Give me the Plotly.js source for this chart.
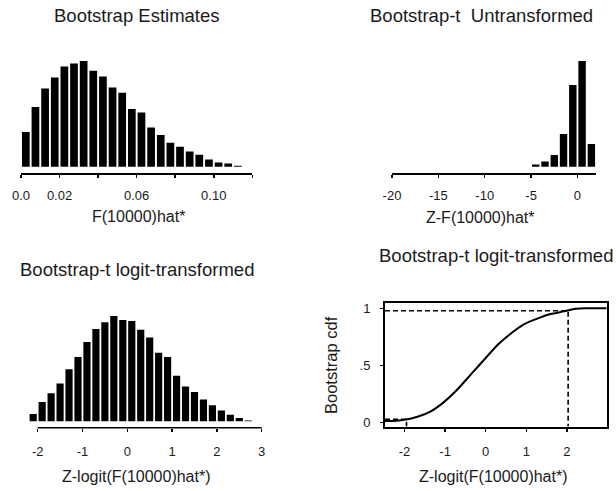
<!DOCTYPE html>
<html><head><meta charset="utf-8">
<script src="https://cdn.plot.ly/plotly-3.0.1.min.js"></script>
<style>html,body{margin:0;padding:0;background:#fff}#chart{width:616px;height:491px}</style>
</head><body><div id="chart"></div>
<script>
// ---- Panel 1: Bootstrap estimates of F(10000) ----
const estBins = [0.0025,0.0075,0.0125,0.0175,0.0225,0.0275,0.0325,0.0375,0.0425,0.0475,0.0525,0.0575,0.0625,0.0675,0.0725,0.0775,0.0825,0.0875,0.0925,0.0975,0.1025,0.1075,0.1125];
const estFreq = [34.7,59.7,78.3,89.3,100.3,103.3,105.7,96,90.3,79.3,74,57.7,54.3,39.3,31.7,24,20,15.3,12,7.3,4.3,3.3,1];
const estTicks = [0,0.02,0.04,0.06,0.08,0.10,0.12];
const estTickText = ['0.0','0.02','','0.06','','0.10',''];

// ---- Panel 2: Bootstrap-t, untransformed ----
const untBins = [-4.5,-3.5,-2.5,-1.5,-0.5,0.5,1.5];
const untFreq = [2.3,5.3,11.7,32.7,81.7,105.7,22.7];
const untTicks = [-20,-15,-10,-5,0];
const untTickText = ['-20','-15','-10','-5','0'];

// ---- Panel 3: Bootstrap-t, logit-transformed ----
const logitBins = [-2.1,-1.9,-1.7,-1.5,-1.3,-1.1,-0.9,-0.7,-0.5,-0.3,-0.1,0.1,0.3,0.5,0.7,0.9,1.1,1.3,1.5,1.7,1.9,2.1,2.3,2.5,2.7];
const logitFreq = [7.3,19.2,28,37.8,52,64.2,79.2,92.2,99,105.3,101.3,100.2,91.5,83.8,68.5,64.2,45.5,34.8,29.2,21.7,16,10.7,6.5,3.3,0.8];
const logitTicks = [-2,-1,0,1,2,3];
const logitTickText = ['-2','-1','0','1','2','3'];

// ---- Panel 4: bootstrap cdf of Z-logit ----
const cdfX = [-2.48,-2.2,-2.0,-1.68,-1.35,-1.03,-0.70,-0.37,-0.04,0.29,0.62,0.94,1.27,1.60,1.93,2.17,2.42,2.98];
const cdfY = [0.015,0.018,0.025,0.052,0.10,0.18,0.29,0.42,0.55,0.68,0.78,0.86,0.91,0.95,0.974,0.994,1.0,1.0];
const cdfXTicks = [-2,-1,0,1,2];
const cdfXText = ['-2','-1','0','1','2'];
const cdfYTicks = [0,0.5,1];
const cdfYText = ['0','.5','1'];
const ciLow = -1.95, ciHigh = 2.03;
const pLow = 0.03, pHigh = 0.978;

// ---- helpers: pixel -> paper fraction ----
const W = 616, H = 491;
const fx = p => p / W;
const fy = p => 1 - p / H;

const FONT = 'Liberation Sans, Arial, Helvetica, sans-serif';
const TXT = '#1a1a1a';

const x4Range = [-2.48, 2.98];
const y4Range = [-0.033, 1.049];

const barBase = {type:'bar', marker:{color:'#000', line:{width:0}}, hoverinfo:'skip'};

const data = [
  Object.assign({}, barBase, {x: estBins, y: estFreq, xaxis:'x', yaxis:'y'}),
  Object.assign({}, barBase, {x: untBins, y: untFreq, xaxis:'x2', yaxis:'y2'}),
  Object.assign({}, barBase, {x: logitBins, y: logitFreq, xaxis:'x3', yaxis:'y3'}),
  {type:'scatter', mode:'lines', x: cdfX, y: cdfY, xaxis:'x4', yaxis:'y4',
   line:{color:'#000', width:2, shape:'spline', smoothing:0.6}},
  {type:'scatter', mode:'lines', x:[x4Range[0], ciHigh, ciHigh], y:[pHigh, pHigh, y4Range[0]],
   xaxis:'x4', yaxis:'y4', line:{color:'#000', width:1.6, dash:'5px,3px'}},
  {type:'scatter', mode:'lines', x:[x4Range[0], ciLow, ciLow], y:[pLow, pLow, y4Range[0]],
   xaxis:'x4', yaxis:'y4', line:{color:'#000', width:1.6, dash:'5px,3px'}}
];

const tickAxis = {
  showgrid:false, zeroline:false, fixedrange:true,
  ticks:'outside', ticklen:3, tickwidth:1.5, tickcolor:'#000',
  tickfont:{family:FONT, size:13, color:TXT}, tickmode:'array'
};
const hiddenY = {visible:false, showgrid:false, zeroline:false, fixedrange:true};

const layout = {
  width: W, height: H,
  margin:{l:0, r:0, t:0, b:0},
  paper_bgcolor:'#fff', plot_bgcolor:'#fff',
  showlegend:false, bargap:0.2, hovermode:false,
  font:{family:FONT, color:TXT},
  xaxis: Object.assign({}, tickAxis, {domain:[fx(21), fx(252.3)], range:[0, 0.12], anchor:'y',
    tickvals: estTicks, ticktext: estTickText, showline:true, linecolor:'#000', linewidth:1.5,
    ticklabelstandoff:7}),
  yaxis: Object.assign({}, hiddenY, {domain:[fy(173.3), fy(55)], range:[-6.6, 111.7], anchor:'x'}),
  xaxis2: Object.assign({}, tickAxis, {domain:[fx(392), fx(596)], range:[-20, 2], anchor:'y2',
    tickvals: untTicks, ticktext: untTickText, showline:true, linecolor:'#000', linewidth:1.5,
    ticklabelstandoff:7}),
  yaxis2: Object.assign({}, hiddenY, {domain:[fy(173.3), fy(55)], range:[-6.6, 111.7], anchor:'x2'}),
  xaxis3: Object.assign({}, tickAxis, {domain:[fx(25), fx(265)], range:[-2.283, 3.074], anchor:'y3',
    tickvals: logitTicks, ticktext: logitTickText, showline:false, ticklabelstandoff:9}),
  yaxis3: Object.assign({}, hiddenY, {domain:[fy(427.7), fy(310)], range:[-6.4, 111.3], anchor:'x3'}),
  xaxis4: Object.assign({}, tickAxis, {domain:[fx(385), fx(606.7)], range:x4Range, anchor:'y4',
    tickvals: cdfXTicks, ticktext: cdfXText, showline:true, mirror:true, linecolor:'#000', linewidth:2,
    ticklabelstandoff:9}),
  yaxis4: Object.assign({}, tickAxis, {domain:[fy(426.5), fy(302.7)], range:y4Range, anchor:'x4',
    tickvals: cdfYTicks, ticktext: cdfYText, showline:true, mirror:true, linecolor:'#000', linewidth:2,
    ticklabelstandoff:7}),
  shapes: [
    {type:'line', xref:'x3', yref:'y3 domain', x0: logitTicks[0], x1: logitTicks[logitTicks.length-1],
     y0:0, y1:0, line:{color:'#000', width:1.5}}
  ],
  annotations: [
    {text:'Bootstrap Estimates', x:fx(137), y:fy(15)},
    {text:'Bootstrap-t  Untransformed', x:fx(481), y:fy(15)},
    {text:'Bootstrap-t logit-transformed', x:fx(137), y:fy(269)},
    {text:'Bootstrap-t logit-transformed', x:fx(496), y:fy(255.5)},
    {text:'F(10000)hat*', x:fx(138), y:fy(216), size:16},
    {text:'Z-F(10000)hat*', x:fx(480), y:fy(218), size:16},
    {text:'Z-logit(F(10000)hat*)', x:fx(136.7), y:fy(476.5), size:16},
    {text:'Z-logit(F(10000)hat*)', x:fx(493.3), y:fy(476.5), size:16},
    {text:'Bootstrap cdf', x:fx(331), y:fy(365), size:16.5, angle:-90}
  ].map(a => ({
    text:a.text, x:a.x, y:a.y, xref:'paper', yref:'paper', xanchor:'center', yanchor:'middle',
    showarrow:false, textangle: a.angle || 0,
    font:{family:FONT, size:a.size || 18.5, color:TXT}
  }))
};

Plotly.newPlot('chart', data, layout, {staticPlot:true, displayModeBar:false});
</script>
</body></html>
